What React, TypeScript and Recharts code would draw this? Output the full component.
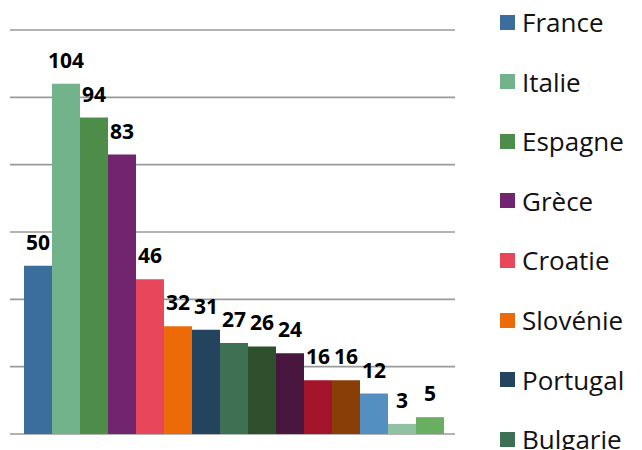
import React from "react";
import { BarChart, Bar, XAxis, YAxis, CartesianGrid, LabelList } from "recharts";

const countries = [
  "France", "Italie", "Espagne", "Grèce", "Croatie", "Slovénie", "Portugal", "Bulgarie",
  "Chypre", "Malte", "Roumanie", "Pologne", "Allemagne", "Belgique", "Pays-Bas",
];
const values = [50, 104, 94, 83, 46, 32, 31, 27, 26, 24, 16, 16, 12, 3, 5];
const colors = [
  "#3B6E9D", "#73B38C", "#4E8C4A", "#72256F", "#E8465A", "#ED6A08", "#24435E", "#3E7054",
  "#2E502D", "#491640", "#A4152C", "#8A3E07", "#5390C1", "#90C2A1", "#68AF62",
];
const yTicks = [0, 20, 40, 60, 80, 100, 120];
// The legend overflows the frame; only the entries that fit are visible
const visibleLegendCount = 8;

const row: Record<string, any> = { name: "all" };
countries.forEach((c, i) => {
  row["s" + i] = values[i];
});
const data = [row];

const FONT = "'Open Sans', Lato, sans-serif";

export default function App() {
  return (
    <div
      style={{
        position: "absolute",
        left: 0,
        top: 0,
        width: 642,
        height: 450,
        overflow: "hidden",
        background: "#fff",
        fontFamily: FONT,
      }}
    >
      <BarChart
        width={642}
        height={450}
        data={data}
        margin={{ top: 30, right: 187, bottom: 16, left: 10 }}
        barCategoryGap={14}
        barGap={0}
      >
        <CartesianGrid vertical={false} stroke="#9a9a9a" strokeWidth={1.6} />
        <XAxis dataKey="name" hide />
        <YAxis domain={[0, 120]} ticks={yTicks} hide />
        {countries.map((c, i) => (
          <Bar key={c} dataKey={"s" + i} name={c} fill={colors[i]} isAnimationActive={false}>
            <LabelList
              dataKey={"s" + i}
              position="top"
              offset={16}
              fill="#000"
              fontSize={21}
              fontWeight={700}
              fontFamily={FONT}
            />
          </Bar>
        ))}
      </BarChart>
      <div style={{ position: "absolute", left: 500, top: 0 }}>
        {countries.slice(0, visibleLegendCount).map((c, i) => (
          <div
            key={c}
            style={{
              position: "absolute",
              left: 0,
              top: 22 + i * 59.6 - 15,
              height: 30,
              display: "flex",
              alignItems: "center",
              whiteSpace: "nowrap",
            }}
          >
            <span
              style={{
                display: "inline-block",
                width: 15,
                height: 15,
                background: colors[i],
                marginRight: 7,
              }}
            />
            <span style={{ fontSize: 26, color: "#111", lineHeight: "30px" }}>{c}</span>
          </div>
        ))}
      </div>
    </div>
  );
}
